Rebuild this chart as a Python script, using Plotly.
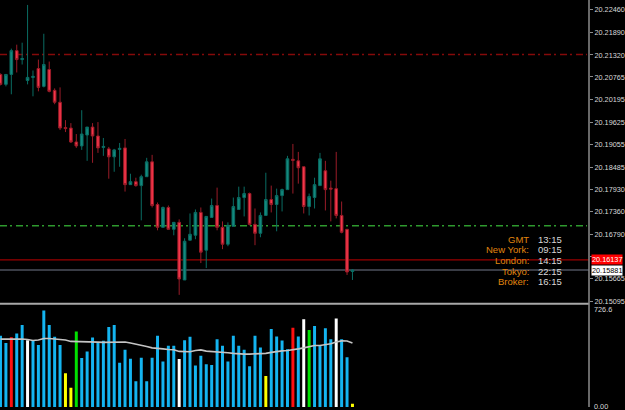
import plotly.graph_objects as go

# ---------------- data ----------------
bar_index = list(range(66))
opens = [20.20828, 20.20577, 20.20828, 20.21430, 20.21204, 20.20677, 20.20753, 20.20978, 20.20527, 20.20953,
         20.20426, 20.20125, 20.19484, 20.19472, 20.19120, 20.19020, 20.19296, 20.19497, 20.19271, 20.18982,
         20.18945, 20.18744, 20.18932, 20.18970, 20.18041, 20.18116, 20.18016, 20.18242, 20.18618, 20.17538,
         20.16961, 20.17463, 20.16911, 20.17087, 20.15630, 20.16635, 20.16760, 20.17338, 20.16383, 20.17212,
         20.17513, 20.16961, 20.16534, 20.16986, 20.17413, 20.17714, 20.17815, 20.17036, 20.16810, 20.17262,
         20.17664, 20.17538, 20.17764, 20.17915, 20.18681, 20.18643, 20.18493, 20.17488, 20.17714, 20.18016,
         20.18392, 20.17953, 20.17940, 20.17262, 20.16911, 20.15844]
highs = [20.20853, 20.20828, 20.21481, 20.21581, 20.21631, 20.22586, 20.20928, 20.21204, 20.21857, 20.21154,
         20.20476, 20.20501, 20.19673, 20.19597, 20.19321, 20.19924, 20.19497, 20.19597, 20.19623, 20.19221,
         20.18995, 20.18945, 20.19095, 20.19196, 20.18317, 20.18216, 20.18292, 20.18719, 20.18794, 20.17589,
         20.17488, 20.17513, 20.17087, 20.17162, 20.16685, 20.17312, 20.17413, 20.17463, 20.17237, 20.17689,
         20.17965, 20.17112, 20.17087, 20.17714, 20.17990, 20.17990, 20.17840, 20.17438, 20.17338, 20.18342,
         20.18016, 20.17940, 20.17940, 20.18769, 20.19070, 20.18869, 20.18493, 20.17815, 20.18216, 20.18844,
         20.18643, 20.18141, 20.18869, 20.17614, 20.16911, 20.15906]
lows = [20.20552, 20.20527, 20.20326, 20.20878, 20.21079, 20.20577, 20.20275, 20.20401, 20.20501, 20.20376,
        20.20075, 20.19422, 20.19371, 20.19095, 20.18970, 20.18920, 20.18643, 20.18593, 20.18844, 20.18769,
        20.18191, 20.18367, 20.18493, 20.17865, 20.18041, 20.17990, 20.17137, 20.18242, 20.17463, 20.16886,
        20.16961, 20.16911, 20.16760, 20.15253, 20.15630, 20.16635, 20.16660, 20.16057, 20.15931, 20.17212,
        20.16886, 20.16409, 20.16484, 20.16986, 20.17413, 20.17237, 20.17011, 20.16509, 20.16710, 20.17262,
        20.17338, 20.16861, 20.17363, 20.17915, 20.17815, 20.18066, 20.17312, 20.17262, 20.17438, 20.18016,
        20.17388, 20.17112, 20.17187, 20.16810, 20.15756, 20.15630]
closes = [20.20577, 20.20828, 20.21430, 20.21204, 20.21230, 20.20753, 20.20778, 20.20501, 20.21079, 20.20401,
          20.20125, 20.19472, 20.19459, 20.19120, 20.19020, 20.19321, 20.19497, 20.19271, 20.18970, 20.19007,
          20.18744, 20.18920, 20.18957, 20.18041, 20.18116, 20.18016, 20.18242, 20.18618, 20.17513, 20.16961,
          20.17463, 20.16911, 20.17087, 20.15655, 20.16609, 20.16785, 20.17338, 20.16333, 20.17237, 20.17513,
          20.16961, 20.16534, 20.17011, 20.17488, 20.17714, 20.17815, 20.17036, 20.16810, 20.17262, 20.17664,
          20.17538, 20.17764, 20.17915, 20.18694, 20.18656, 20.18468, 20.17488, 20.17739, 20.18041, 20.18694,
          20.17915, 20.17928, 20.17262, 20.16835, 20.15831, 20.15881]

volumes = [506, 454, 496, 522, 583, 475, 470, 440, 686, 583,
           499, 440, 240, 136, 536, 348, 395, 494, 459, 470,
           569, 583, 315, 407, 343, 183, 350, 183, 350, 506,
           324, 435, 435, 341, 475, 499, 294, 365, 303, 298,
           482, 435, 324, 506, 435, 407, 289, 506, 423, 221,
           555, 501, 473, 411, 564, 501, 623, 548, 576, 435,
           559, 482, 628, 482, 353, 23]
volume_class = ["b", "b", "r", "b", "b", "w", "b", "b", "b", "b",
                "b", "b", "y", "y", "g", "b", "b", "b", "b", "b",
                "b", "b", "b", "b", "b", "b", "b", "b", "b", "b",
                "b", "b", "b", "w", "b", "b", "b", "b", "b", "b",
                "b", "b", "b", "b", "b", "b", "b", "b", "b", "y",
                "b", "b", "b", "b", "r", "b", "w", "g", "b", "b",
                "b", "b", "w", "b", "b", "y"]
volume_ma = [482, 483, 485, 485, 483, 480, 473, 476, 487, 487,
             485, 481, 476, 466, 466, 466, 466, 463, 461, 459,
             459, 460, 463, 462, 455, 448, 441, 430, 420, 414,
             413, 409, 407, 395, 393, 393, 402, 406, 397, 395,
             395, 392, 386, 381, 377, 376, 376, 377, 380, 381,
             388, 395, 399, 402, 406, 413, 420, 427, 437, 437,
             441, 449, 462, 470, 469, 454]

price_ticks = [20.22460, 20.21890, 20.21320, 20.20765, 20.20195, 20.19625, 20.19055,
               20.18485, 20.17930, 20.17360, 20.16790, 20.16220, 20.15665, 20.15095]
# the 20.16220 label sits under the ask-price box in the reference
hidden_ticks = [20.16220]
price_range = [20.15053, 20.22711]
volume_max = 726.6
ask_price = 20.16137
bid_price = 20.15881
level_red = 20.21330
level_green = 20.17004

clock_labels = ["GMT", "New York:", "London:", "Tokyo:", "Broker:"]
clock_times = ["13:15", "09:15", "14:15", "22:15", "16:15"]

# ---------------- styling ----------------
W, H = 625, 410
PLOT_W = 595
vol_colors = {"b": "#14b4f0", "r": "#ff1010", "w": "#ffffff", "y": "#ffff00", "g": "#00e000"}
TXT = "#d8d8d8"
FONT = "Liberation Sans"
TICK_SIZE = 7.3

def px_x(px):
    return px / PLOT_W

def px_y(py):
    return 1 - py / H

fig = go.Figure()

fig.add_trace(go.Candlestick(
    x=bar_index, open=opens, high=highs, low=lows, close=closes,
    increasing=dict(line=dict(color="#0a6c63", width=1), fillcolor="#13897e"),
    decreasing=dict(line=dict(color="#9a1c28", width=1), fillcolor="#f5364a"),
    xaxis="x", yaxis="y", hoverinfo="skip",
))

fig.add_trace(go.Bar(
    x=bar_index, y=volumes, width=0.55,
    marker=dict(color=[vol_colors[c] for c in volume_class], line=dict(width=0)),
    xaxis="x", yaxis="y2", hoverinfo="skip",
))

fig.add_trace(go.Scatter(
    x=bar_index, y=volume_ma, mode="lines",
    line=dict(color="#c4c4c4", width=1.6),
    xaxis="x", yaxis="y2", hoverinfo="skip",
))

x_range = [-0.5 / 5.47, (PLOT_W - 0.5) / 5.47]

shapes = []
dash = "7px,3px,2px,4px"
for lvl, col in [(level_red, "#850a0a"), (level_green, "#2e9a2e")]:
    shapes.append(dict(type="line", xref="paper", yref="y", x0=0, x1=px_x(593), y0=lvl, y1=lvl,
                       line=dict(color=col, width=1.5, dash=dash), layer="below"))
shapes.append(dict(type="line", xref="paper", yref="y", x0=0, x1=1, y0=ask_price, y1=ask_price,
                   line=dict(color="#9a0000", width=1.2), layer="below"))
shapes.append(dict(type="line", xref="paper", yref="y", x0=0, x1=1, y0=bid_price, y1=bid_price,
                   line=dict(color="#4c515c", width=1.6), layer="below"))
# panel separator and price-scale line
shapes.append(dict(type="line", xref="paper", yref="paper", x0=0, x1=1, y0=px_y(306), y1=px_y(306),
                   line=dict(color="#a8a8a8", width=2)))
shapes.append(dict(type="line", xref="paper", yref="paper", x0=1, x1=1, y0=0, y1=1,
                   line=dict(color="#8c8c8c", width=1.5)))

ann = []
ann.append(dict(xref="paper", yref="y", x=px_x(597), y=ask_price, xanchor="left", yanchor="middle",
                text="20.16137", showarrow=False, bgcolor="#ff0000", borderpad=0,
                font=dict(family=FONT, size=TICK_SIZE, color="#ffffff")))
ann.append(dict(xref="paper", yref="y", x=px_x(597), y=bid_price, xanchor="left", yanchor="middle",
                text="20.15881", showarrow=False, bgcolor="#ffffff", borderpad=0,
                font=dict(family=FONT, size=TICK_SIZE, color="#000000")))
ann.append(dict(xref="paper", yref="paper", x=px_x(598), y=px_y(312), xanchor="left", yanchor="middle",
                text=f"{volume_max:.1f}", showarrow=False, font=dict(family=FONT, size=TICK_SIZE, color=TXT)))
ann.append(dict(xref="paper", yref="paper", x=px_x(598), y=px_y(409), xanchor="left", yanchor="middle",
                text="0.00", showarrow=False, font=dict(family=FONT, size=TICK_SIZE, color=TXT)))

row_y = [241, 251.7, 262.3, 273, 283.5]
for lab, tm, ry in zip(clock_labels, clock_times, row_y):
    ann.append(dict(xref="paper", yref="paper", x=px_x(536), y=px_y(ry), xanchor="right", yanchor="middle",
                    text=lab, showarrow=False, font=dict(family=FONT, size=9.5, color="#e0850f")))
    ann.append(dict(xref="paper", yref="paper", x=px_x(541), y=px_y(ry), xanchor="left", yanchor="middle",
                    text=tm, showarrow=False, font=dict(family=FONT, size=9.5, color=TXT)))

fig.update_layout(
    width=W, height=H,
    margin=dict(l=0, r=W - PLOT_W, t=0, b=0),
    paper_bgcolor="#000000", plot_bgcolor="#000000",
    showlegend=False,
    xaxis=dict(range=x_range, visible=False, rangeslider=dict(visible=False), anchor="y"),
    yaxis=dict(domain=[px_y(305), 1], range=price_range, side="right",
               tickmode="array", tickvals=price_ticks,
               ticktext=["" if v in hidden_ticks else f"{v:.5f}" for v in price_ticks],
               ticks="outside", ticklen=3, tickcolor="#8c8c8c", tickwidth=1,
               tickfont=dict(family=FONT, size=TICK_SIZE, color=TXT),
               showgrid=False, zeroline=False, showline=False, anchor="x"),
    yaxis2=dict(domain=[0, px_y(307)], range=[0, volume_max], visible=False,
                showgrid=False, zeroline=False, anchor="x"),
    shapes=shapes,
    annotations=ann,
)

fig.write_html("out.html")
